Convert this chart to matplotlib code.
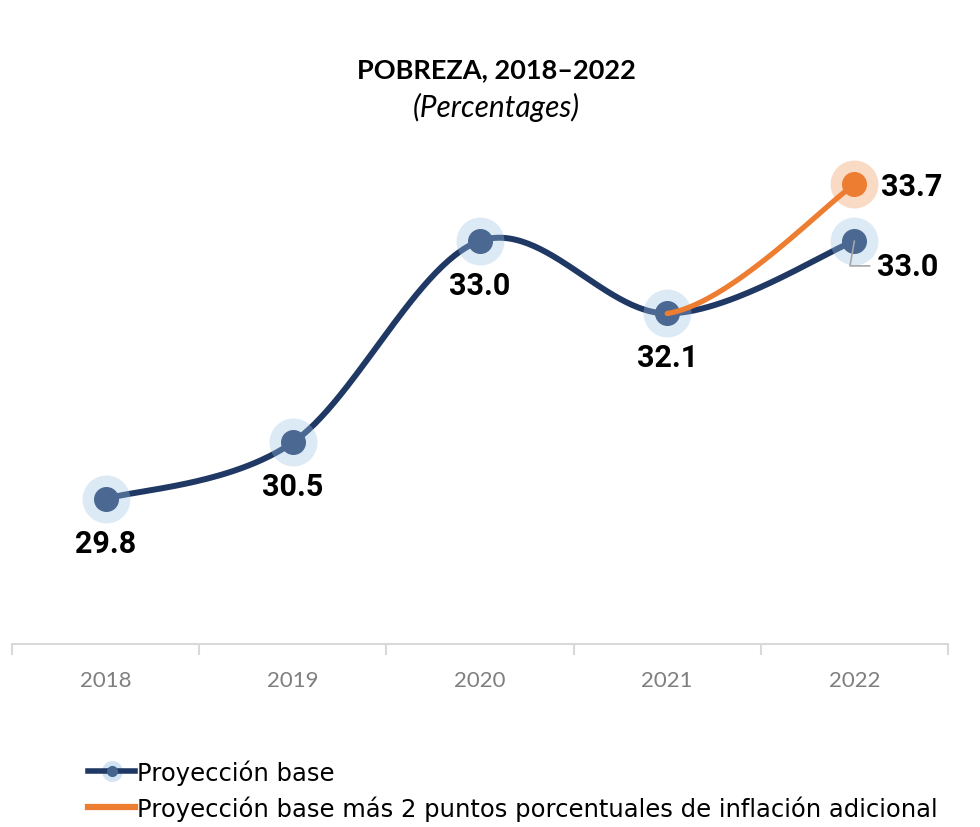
import numpy as np
import matplotlib
matplotlib.use("Agg")
import matplotlib.pyplot as plt
from matplotlib.lines import Line2D
from matplotlib.legend_handler import HandlerTuple

# --- Data ---
years = ["2018", "2019", "2020", "2021", "2022"]
base = [29.8, 30.5, 33.0, 32.1, 33.0]
# higher-inflation scenario only departs from the base in the last year
extra_inflation = [29.8, 30.5, 33.0, 32.1, 33.7]

title = "POBREZA, 2018\u20132022"
subtitle = "(Percentages)"
label_base = "Proyección base"
label_extra = "Proyección base más 2 puntos porcentuales de inflación adicional"

# --- Colours ---
NAVY = "#1f3864"
HALO_BLUE = "#9dc3e6"
ORANGE = "#ed7d31"
AXIS_GREY = "#d9d9d9"
TICK_GREY = "#7f7f7f"


def smooth_curve(xs, ys, n=60):
    """Spreadsheet-style smoothed line: cubic Bezier segments whose control
    points come from the neighbouring points (Catmull-Rom, tension 1/6)."""
    px = np.concatenate(([xs[0]], xs, [xs[-1]])).astype(float)
    py = np.concatenate(([ys[0]], ys, [ys[-1]])).astype(float)
    segs = []
    t = np.linspace(0, 1, n)[:, None]
    for i in range(len(xs) - 1):
        p0 = np.array([px[i], py[i]])
        p1 = np.array([px[i + 1], py[i + 1]])
        p2 = np.array([px[i + 2], py[i + 2]])
        p3 = np.array([px[i + 3], py[i + 3]])
        c1 = p1 + (p2 - p0) / 6
        c2 = p2 - (p3 - p1) / 6
        pts = ((1 - t) ** 3 * p1 + 3 * (1 - t) ** 2 * t * c1
               + 3 * (1 - t) * t ** 2 * c2 + t ** 3 * p2)
        segs.append(pts)
    return segs


x = np.arange(len(years))

fig = plt.figure(figsize=(9.8, 8.28), dpi=100)
ax = fig.add_axes([12 / 980, 0.2210, 936 / 980, 0.5842])
ax.set_xlim(-0.5, len(years) - 0.5)
ax.set_ylim(28, 34)

# base projection
base_segs = smooth_curve(x, base)
bx = np.concatenate([s[:, 0] for s in base_segs])
by = np.concatenate([s[:, 1] for s in base_segs])
ax.plot(bx, by, color=NAVY, lw=4.3, solid_capstyle="round", zorder=2)
ax.plot(x, base, "o", ms=17, color=NAVY, zorder=3, clip_on=False)
ax.plot(x, base, "o", ms=34.5, color=HALO_BLUE, alpha=0.35, mec="none",
        zorder=4, clip_on=False)

# extra-inflation scenario: only the last segment is drawn
extra_segs = smooth_curve(x, extra_inflation)
last = extra_segs[-1]
ax.plot(last[:, 0], last[:, 1], color=ORANGE, lw=3.8, solid_capstyle="round",
        zorder=5, clip_on=False)
ax.plot(x[-1], extra_inflation[-1], "o", ms=17, color=ORANGE, zorder=6,
        clip_on=False)
ax.plot(x[-1], extra_inflation[-1], "o", ms=34.5, color=ORANGE, alpha=0.28,
        mec="none", zorder=6, clip_on=False)

# data labels
label_kw = dict(textcoords="offset pixels", ha="center", va="center",
                fontsize=22, fontweight="bold", family="Roboto", color="black",
                zorder=8, annotation_clip=False)
for i in range(len(years) - 1):
    ax.annotate(f"{base[i]:.1f}", (x[i], base[i]), xytext=(0, -44), **label_kw)
ax.annotate(f"{base[-1]:.1f}", (x[-1], base[-1]), xytext=(53, -25),
            arrowprops=dict(arrowstyle="-", color="#a6a6a6", lw=1.2,
                            shrinkA=3, shrinkB=0,
                            connectionstyle="angle,angleA=0,angleB=80,rad=0",
                            relpos=(0, 0.5)),
            **label_kw)
ax.annotate(f"{extra_inflation[-1]:.1f}", (x[-1], extra_inflation[-1]),
            xytext=(57, -2), **label_kw)

# axes styling: only the category axis is shown
for side in ["left", "right", "top"]:
    ax.spines[side].set_visible(False)
ax.spines["bottom"].set_color(AXIS_GREY)
ax.spines["bottom"].set_linewidth(1.5)
ax.set_yticks([])
ax.set_xticks(x)
ax.set_xticklabels(years, fontsize=16, family="Lato", color=TICK_GREY)
ax.tick_params(axis="x", which="major", length=0, pad=19)
ax.set_xticks(np.arange(-0.5, len(years)), minor=True)
ax.tick_params(axis="x", which="minor", length=8, width=1.5, color=AXIS_GREY)

# title
fig.text(496 / 980, 1 - 70 / 828, title, ha="center", va="center",
         fontsize=19.5, fontweight="bold", family="Lato")
fig.text(496 / 980, 1 - 107 / 828, subtitle, ha="center", va="center",
         fontsize=21.5, style="italic", family="Lato")

# legend
h_base = (Line2D([], [], ls="none", marker="o", ms=15, color=HALO_BLUE,
                 alpha=0.45, mec="none"),
          Line2D([], [], color=NAVY, lw=4, marker="o", ms=7, mfc="#44648e",
                 mec="#44648e"))
h_extra = Line2D([], [], color=ORANGE, lw=4.5)
fig.legend([h_base, h_extra], [label_base, label_extra],
           handler_map={tuple: HandlerTuple(ndivide=1)},
           loc="center left", bbox_to_anchor=(88 / 980, 1 - 791 / 828),
           frameon=False, prop=dict(family="DejaVu Sans", size=17.5),
           handlelength=1.95, handletextpad=0.08, labelspacing=0.45,
           borderaxespad=0, borderpad=0)

fig.savefig("out.png", dpi=100)
